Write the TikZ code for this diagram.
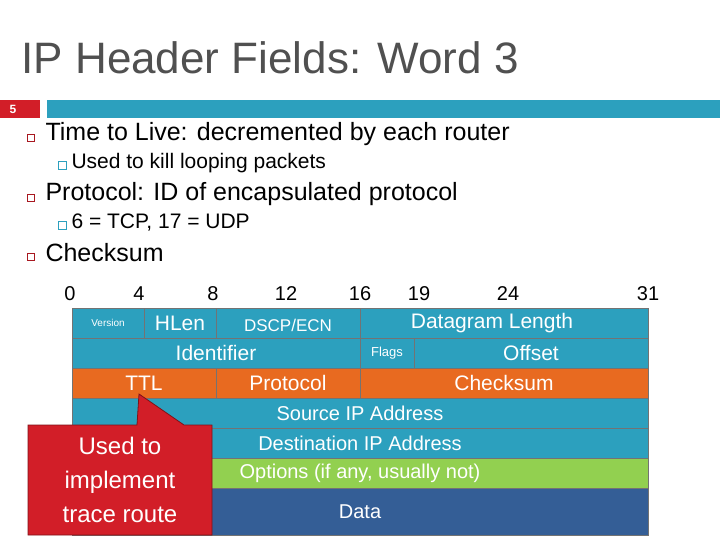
\documentclass[tikz,border=0pt]{standalone}
\usepackage{fontspec}
\setmainfont{Liberation Sans}
\usetikzlibrary{positioning}
\definecolor{teal1}{RGB}{44,160,190}
\definecolor{orng}{RGB}{232,106,32}
\definecolor{lgreen}{RGB}{146,208,80}
\definecolor{dblue}{RGB}{52,94,150}
\definecolor{slidered}{RGB}{210,30,40}
\definecolor{titlegray}{RGB}{80,80,80}
\tikzstyle{field}=[draw=black!60, thick, text=white, inner sep=0pt, font=\fontsize{20}{22}\selectfont]
\tikzstyle{bullet}=[draw=slidered!80!black, line width=1pt, fill=white, minimum size=7pt, inner sep=0pt]
\tikzstyle{subbullet}=[draw=teal1, line width=0.6pt, minimum size=8pt, inner sep=0pt]
\tikzstyle{bittext}=[font=\fontsize{20}{22}\selectfont]
\newcommand{\fieldbox}[6]{% name, bit0, bit1, row top, row bottom, colour
  \fill[#6] ({72+18*#2},#4) rectangle ({72+18*#3},#5);
  \draw[black!55, thick] ({72+18*#2},#4) rectangle ({72+18*#3},#5);
  \coordinate (#1) at ({72+9*(#2+#3)},{(#4+#5)/2});}
\begin{document}
\begin{tikzpicture}[x=1pt, y=-1pt]
    \useasboundingbox (0,0) rectangle (720,540);
    % Title and bar
    \node[anchor=west, text=titlegray, font=\fontsize{44}{48}\selectfont] (title) at (18,58) {IP Header Fields: Word 3};
    \fill[slidered] (0,100) rectangle (40,118);
    \fill[teal1] (47,100) rectangle (720,118);
    \node[text=white, font=\bfseries\fontsize{12}{14}\selectfont] (num) at (13,109) {5};
    % Bullets
    \foreach \y/\name/\txt in {134/b1/{Time to Live: decremented by each router}, 194/b2/{Protocol: ID of encapsulated protocol}, 253/b3/{Checksum}} {
        \node[bullet] (\name) at (31,\y+4) {};
        \node[anchor=west, font=\fontsize{25}{28}\selectfont] at (42,\y) {\txt};
    }
    \foreach \y/\name/\txt in {163/s1/{Used to kill looping packets}, 223/s2/{6 = TCP, 17 = UDP}} {
        \node[subbullet] (\name) at (62,\y+2) {};
        \node[anchor=west, font=\fontsize{21}{24}\selectfont] at (68,\y) {\txt};
    }
    % Bit numbers
    \foreach \b/\x in {0/70, 4/139, 8/213, 12/286, 16/360, 19/419, 24/508, 31/648}
        \node[bittext] (bit\b) at (\x,294) {\b};
    % Header fields
    \fieldbox{ver}{0}{4}{308}{338}{teal1}
    \fieldbox{hlen}{4}{8}{308}{338}{teal1}
    \fieldbox{dscp}{8}{16}{308}{338}{teal1}
    \fieldbox{dlen}{16}{32}{308}{338}{teal1}
    \fieldbox{ident}{0}{16}{338}{368}{teal1}
    \fieldbox{flags}{16}{19}{338}{368}{teal1}
    \fieldbox{offset}{19}{32}{338}{368}{teal1}
    \fieldbox{ttl}{0}{8}{368}{398}{orng}
    \fieldbox{proto}{8}{16}{368}{398}{orng}
    \fieldbox{csum}{16}{32}{368}{398}{orng}
    \fieldbox{src}{0}{32}{398}{428}{teal1}
    \fieldbox{dst}{0}{32}{428}{458}{teal1}
    \fieldbox{opts}{0}{32}{458}{488}{lgreen}
    \fieldbox{data}{0}{32}{488}{535}{dblue}
    \node[text=white, font=\fontsize{10}{12}\selectfont] at (ver) {Version};
    \foreach \name/\txt in {hlen/HLen, ident/Identifier, offset/Offset, ttl/TTL, proto/Protocol, csum/Checksum}
        \node[text=white, font=\fontsize{21}{24}\selectfont] at (\name) {\txt};
    \node[text=white, font=\fontsize{17}{20}\selectfont, yshift=-2pt] at (dscp) {DSCP/ECN};
    \node[text=white, font=\fontsize{21}{24}\selectfont, xshift=-12pt] at (dlen) {Datagram Length};
    \node[text=white, font=\fontsize{13}{15}\selectfont] at (flags) {Flags};
    \foreach \name/\txt in {src/Source IP Address, dst/Destination IP Address, opts/{Options (if any, usually not)}, data/Data}
        \node[text=white, font=\fontsize{20}{22}\selectfont] at (\name) {\txt};
    % Callout
    \coordinate (tip) at (139,394);
    \filldraw[fill=slidered, draw=slidered!60!black, thick]
        (28,425) -- (137,425) -- (tip) -- (184,425) -- (212,425) -- (212,535) -- (28,535) -- cycle;
    \node[text=white, align=center, font=\fontsize{24}{34}\selectfont] (note) at (120,480) {Used to\\implement\\trace route};
\end{tikzpicture}
\end{document}
